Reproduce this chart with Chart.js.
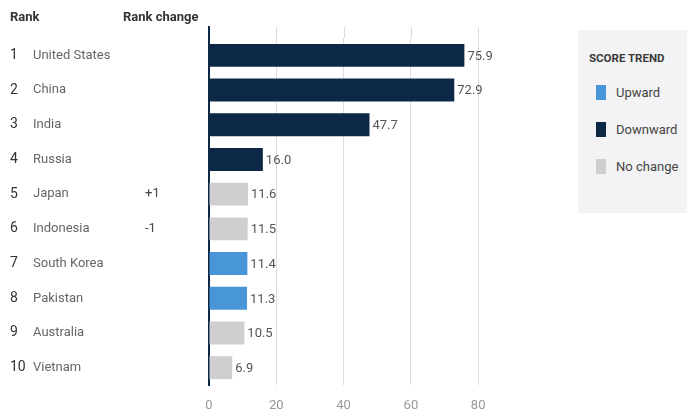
<!DOCTYPE html>
<html>
<head>
<meta charset="utf-8">
<script src="https://cdn.jsdelivr.net/npm/chart.js@4"></script>
<style>
  html, body { margin: 0; padding: 0; background: #fff; }
  #wrap { position: relative; width: 687px; height: 414px; }
  #legendBox {
    position: absolute; left: 578px; top: 30px; width: 109px; height: 183px;
    background: #f3f3f5; font-family: "Roboto", "Liberation Sans", Arial, sans-serif;
  }
  #legendBox .title {
    position: absolute; left: 11px; top: 21px; font-size: 11.5px; font-weight: bold; color: #3a3a3a;
  }
  #legendBox .item { position: absolute; left: 18px; height: 16px; font-size: 13px; color: #444; }
  #legendBox .swatch { position: absolute; left: 0; top: 0; width: 10px; height: 15px; }
  #legendBox .label { position: absolute; left: 20px; top: 0; line-height: 16px; white-space: nowrap; }
</style>
</head>
<body>
<div id="wrap">
  <canvas id="rankChart" width="687" height="414"></canvas>
  <div id="legendBox"></div>
</div>
<script>
// Country rankings, scores and trend
const ranks = [1, 2, 3, 4, 5, 6, 7, 8, 9, 10];
const countries = ["United States", "China", "India", "Russia", "Japan", "Indonesia",
  "South Korea", "Pakistan", "Australia", "Vietnam"];
const rankChanges = ["", "", "", "", "+1", "-1", "", "", "", ""];
const scores = [75.9, 72.9, 47.7, 16.0, 11.6, 11.5, 11.4, 11.3, 10.5, 6.9];
const trends = ["down", "down", "down", "down", "none", "none", "up", "up", "none", "none"];

const trendNames = ["up", "down", "none"];
const trendLabels = ["Upward", "Downward", "No change"];
const trendColors = { up: "#4896d8", down: "#0c2846", none: "#cfcfcf" };

const FONT = '"Roboto", "Liberation Sans", Arial, sans-serif';
const NAVY = "#0c2846";

// draws rank / country / rank change text on the left, value labels at bar ends
const sideText = {
  id: "sideText",
  afterDatasetsDraw(chart) {
    const ctx = chart.ctx;
    const yScale = chart.scales.y;
    const meta = chart.getDatasetMeta(0);
    ctx.save();
    ctx.textBaseline = "middle";
    ctx.textAlign = "left";

    ctx.font = "bold 13px " + FONT;
    ctx.fillStyle = "#333";
    ctx.fillText("Rank", 10, 18);
    ctx.fillText("Rank change", 123, 18);

    countries.forEach((name, i) => {
      const y = yScale.getPixelForValue(i);
      ctx.font = "14px " + FONT;
      ctx.fillStyle = "#333";
      ctx.fillText(String(ranks[i]), 10, y);
      ctx.font = "13px " + FONT;
      ctx.fillStyle = "#666";
      ctx.fillText(name, 33, y);
      if (rankChanges[i]) {
        ctx.fillStyle = "#444";
        ctx.fillText(rankChanges[i], 145, y);
      }
      // value label just past the bar end
      const bar = meta.data[i];
      ctx.font = "13px " + FONT;
      ctx.fillStyle = "#555";
      ctx.fillText(scores[i].toFixed(1), bar.x + 3, y + 1);
    });
    ctx.restore();
  },
  beforeDatasetsDraw(chart) {
    // axis and grid lines run a little above the first bar row
    const ctx = chart.ctx;
    const x = chart.scales.x;
    const top = chart.chartArea.top;
    ctx.save();
    [20, 40, 60, 80].forEach(v => {
      const px = Math.round(x.getPixelForValue(v)) + 0.5;
      ctx.strokeStyle = "#dcdcdc";
      ctx.lineWidth = 1;
      ctx.beginPath();
      ctx.moveTo(px, top - 11);
      ctx.lineTo(px, top);
      ctx.stroke();
    });
    ctx.strokeStyle = NAVY;
    ctx.lineWidth = 2;
    ctx.beginPath();
    ctx.moveTo(chart.chartArea.left, top - 12);
    ctx.lineTo(chart.chartArea.left, top);
    ctx.stroke();
    ctx.restore();
  }
};

const chart = new Chart(document.getElementById("rankChart"), {
  type: "bar",
  data: {
    labels: countries,
    datasets: [{
      data: scores,
      backgroundColor: trends.map(t => trendColors[t]),
      barPercentage: 0.66,
      categoryPercentage: 1.0,
    }],
  },
  options: {
    indexAxis: "y",
    responsive: false,
    animation: false,
    layout: { padding: { left: 209, right: 192, top: 38, bottom: 0 } },
    plugins: { legend: { display: false }, tooltip: { enabled: false } },
    scales: {
      x: {
        min: 0,
        max: 85,
        afterFit: scale => { scale.height = 29; },
        ticks: {
          stepSize: 20,
          includeBounds: false,
          color: "#999",
          font: { family: FONT, size: 13 },
          padding: 13,
        },
        grid: {
          drawTicks: false,
          color: ctx => (ctx.tick && ctx.tick.value === 0 ? "rgba(0,0,0,0)" : "#dcdcdc"),
        },
        border: { display: false },
      },
      y: {
        ticks: { display: false },
        grid: { display: false, drawTicks: false },
        border: { display: true, color: NAVY, width: 2 },
      },
    },
  },
  plugins: [sideText],
});

// legend panel
const box = document.getElementById("legendBox");
box.innerHTML = '<div class="title">SCORE TREND</div>';
trendNames.forEach((t, i) => {
  const item = document.createElement("div");
  item.className = "item";
  item.style.top = (55 + i * 37) + "px";
  item.innerHTML = '<div class="swatch" style="background:' + trendColors[t] + '"></div>' +
    '<div class="label">' + trendLabels[i] + '</div>';
  box.appendChild(item);
});
</script>
</body>
</html>
